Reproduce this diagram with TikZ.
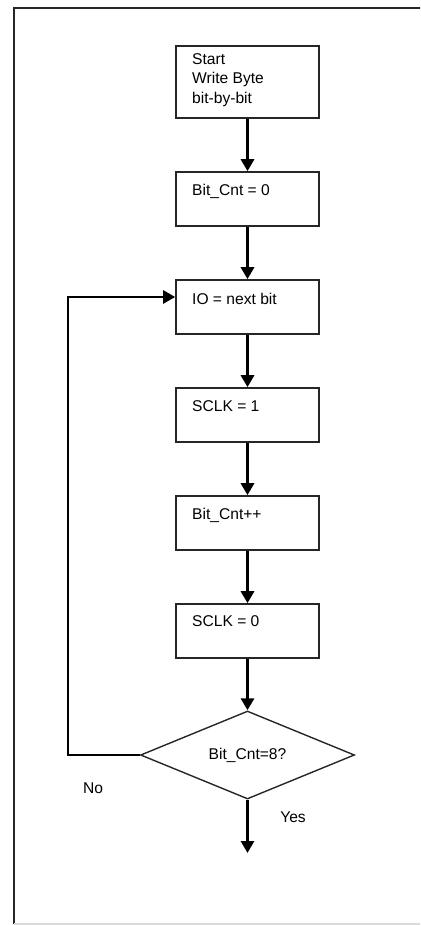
\documentclass[tikz,border=0pt]{standalone}
\usepackage{fontspec}
\setmainfont{Liberation Sans}
\usetikzlibrary{arrows.meta,shapes.geometric}
\begin{document}
\begin{tikzpicture}[x=1pt,y=-1pt,
  box/.style={draw=black!85,line width=1.6pt,minimum width=143pt,minimum height=54pt,inner sep=0pt,rectangle},
  txt/.style={anchor=base west,inner sep=0pt,font=\fontsize{15.6}{19.5}\selectfont},
  flow/.style={line width=3pt,-{Triangle[length=12pt,width=13pt]}},
  loop/.style={line width=2.4pt,-{Triangle[length=12pt,width=13pt]}}]
\useasboundingbox (0,0) rectangle (420,925);
\clip (0,0) rectangle (420,925);
% frame
\draw[black!85,line width=2pt] (14,924) -- (14,8) -- (440,8);
\draw[black!15,line width=1.2pt] (14,924) -- (440,924);
% boxes
\node[box,minimum height=72pt] (b1) at (247.5,82) {};
\node[box] (b2) at (247.5,199) {};
\node[box] (b3) at (247.5,307) {};
\node[box] (b4) at (247.5,415) {};
\node[box] (b5) at (247.5,523) {};
\node[box] (b6) at (247.5,631) {};
\node[draw=black!85,line width=1.4pt,diamond,minimum width=214pt,minimum height=88pt,aspect=2.43,inner sep=0pt] (d) at (247.5,755) {};
% texts
\node[anchor=north west,align=left,inner sep=0pt,font=\fontsize{15.6}{19.5}\selectfont] (t1) at (192,53) {Start\\Write Byte\\bit-by-bit};
\node[txt] (t2) at (192,196) {Bit\_Cnt = 0};
\node[txt] (t3) at (192,304.5) {IO = next bit};
\node[txt] (t4) at (192,411) {SCLK = 1};
\node[txt] (t5) at (192,519) {Bit\_Cnt++};
\node[txt] (t6) at (192,626) {SCLK = 0};
\node[inner sep=0pt,font=\fontsize{15.6}{19.5}\selectfont] (td) at (d.center) {Bit\_Cnt=8?};
\node[inner sep=0pt,font=\fontsize{15.6}{19.5}\selectfont] (no) at (93,788) {No};
\node[inner sep=0pt,font=\fontsize{15.6}{19.5}\selectfont] (yes) at (293,817) {Yes};
% connectors
\coordinate (endp) at (247.5,853);
\coordinate (lp1) at (68,755);
\coordinate (lp2) at (68,297);
\draw[flow] (b1.south) -- (b2.north);
\draw[flow] (b2.south) -- (b3.north);
\draw[flow] (b3.south) -- (b4.north);
\draw[flow] (b4.south) -- (b5.north);
\draw[flow] (b5.south) -- (b6.north);
\draw[flow] (b6.south) -- (d.north);
\draw[flow] (d.south) -- (endp);
\draw[loop] (d.west) -- (lp1) -- (lp2) -- (b3.west |- lp2);
\end{tikzpicture}
\end{document}
